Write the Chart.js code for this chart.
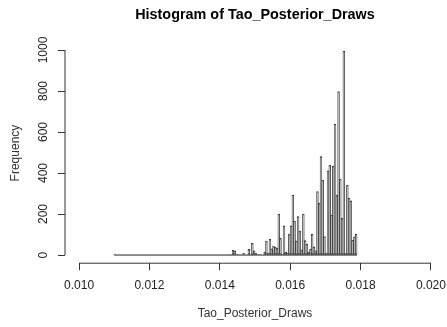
<!DOCTYPE html>
<html>
<head>
<meta charset="utf-8">
<script src="https://cdn.jsdelivr.net/npm/chart.js@4/dist/chart.umd.min.js"></script>
<style>
  body { margin: 0; background: #fff; }
  canvas { display: block; }
</style>
</head>
<body>
<canvas id="hist" width="447" height="327"></canvas>
<script>
// bins of the histogram: start and width, then the count in each bin
const binStart = 0.011;
const binWidth = 0.00005;
const counts = [
  5,
  0, 0, 0, 0, 0, 0, 0, 0, 0, 0, 0, 0, 0, 0, 0, 0,
  0, 0, 0, 0, 0, 0, 0, 0, 0, 0, 0, 0, 0, 0, 0, 0,
  0, 0, 0, 0, 0, 0, 0, 0, 0, 0, 0, 0, 0, 0, 0, 0,
  0, 0, 0, 0, 0, 0, 0, 0, 0, 0, 0, 0, 0, 0, 0, 0,
  3, 0, 24, 20, 0, 5, 0, 0, 8, 0, 0, 28, 3, 57, 21, 8, 0, 4, 0, 0,
  14, 68, 10, 78, 30, 44, 39, 34, 200, 81, 5, 143, 15, 8, 102,
  143, 293, 166, 68, 187, 117, 25, 200, 70, 54, 15, 29, 102, 40, 20,
  309, 253, 480, 366, 90, 10, 411, 439, 195, 434, 639, 293, 797, 371,
  180, 995, 10, 341, 278, 265, 73, 89, 102
];

// axis ticks
const xTicks = [0.010, 0.012, 0.014, 0.016, 0.018, 0.020];
const yTicks = [0, 200, 400, 600, 800, 1000];

const font = "'Liberation Sans', Arial, sans-serif";

const bars = counts.map((c, i) => ({ x: binStart + (i + 0.5) * binWidth, y: c }));
const baseline = [
  { x: binStart, y: 0 },
  { x: binStart + counts.length * binWidth, y: 0 }
];

// axis lines only run from the first tick to the last one
const tickSpanAxes = {
  id: "tickSpanAxes",
  afterDatasetsDraw(chart) {
    const { ctx, chartArea, scales } = chart;
    const x = scales.x, y = scales.y;
    ctx.save();
    ctx.strokeStyle = "#333";
    ctx.lineWidth = 1;
    ctx.beginPath();
    ctx.moveTo(x.getPixelForValue(xTicks[0]), chartArea.bottom);
    ctx.lineTo(x.getPixelForValue(xTicks[xTicks.length - 1]), chartArea.bottom);
    ctx.moveTo(chartArea.left, y.getPixelForValue(yTicks[0]));
    ctx.lineTo(chartArea.left, y.getPixelForValue(yTicks[yTicks.length - 1]));
    ctx.stroke();
    ctx.restore();
  }
};

new Chart(document.getElementById("hist"), {
  type: "bar",
  data: {
    datasets: [
      {
        type: "bar",
        data: bars,
        backgroundColor: "#b4b4b4",
        borderColor: "#333",
        borderWidth: 1,
        borderSkipped: false,
        barPercentage: 1,
        categoryPercentage: 1
      },
      {
        type: "line",
        data: baseline,
        borderColor: "#222",
        borderWidth: 1,
        pointRadius: 0
      }
    ]
  },
  options: {
    responsive: false,
    animation: false,
    devicePixelRatio: 1,
    layout: { padding: { left: 0, right: 2, top: 0, bottom: 0 } },
    plugins: {
      legend: { display: false },
      tooltip: { enabled: false },
      title: {
        display: true,
        text: "Histogram of Tao_Posterior_Draws",
        fullSize: false,
        color: "#000",
        font: { family: font, size: 14.4, weight: "bold", lineHeight: 1.2 },
        padding: { top: 6.4, bottom: 19.2 }
      }
    },
    scales: {
      x: {
        type: "linear",
        offset: false,
        min: 0.0096,
        max: 0.0204,
        afterBuildTicks: s => { s.ticks = xTicks.map(v => ({ value: v })); },
        afterFit: s => { s.height = 63.8; s.paddingLeft = 0; s.paddingRight = 0; },
        ticks: {
          color: "#222",
          font: { family: font, size: 12 },
          padding: 8,
          maxRotation: 0,
          autoSkip: false,
          callback: v => v.toFixed(3)
        },
        grid: { offset: false, drawOnChartArea: false, tickLength: 7, color: "#333" },
        border: { display: false },
        title: {
          display: true,
          text: "Tao_Posterior_Draws",
          color: "#333",
          font: { family: font, size: 12, lineHeight: 1.2 },
          padding: { top: 0, bottom: 5.8 }
        }
      },
      y: {
        type: "linear",
        min: -39.8,
        max: 1034.8,
        afterBuildTicks: s => { s.ticks = yTicks.map(v => ({ value: v })); },
        afterFit: s => { s.width = 65; s.paddingTop = 0; s.paddingBottom = 0; },
        ticks: {
          color: "#222",
          font: { family: font, size: 12 },
          padding: 1.4,
          minRotation: 90,
          maxRotation: 90,
          crossAlign: "center",
          autoSkip: false,
          callback: v => String(v)
        },
        grid: { drawOnChartArea: false, tickLength: 7, color: "#333" },
        border: { display: false },
        title: {
          display: true,
          text: "Frequency",
          color: "#333",
          font: { family: font, size: 12, lineHeight: 1.2 },
          padding: { top: 8.8, bottom: 0 }
        }
      }
    }
  },
  plugins: [tickSpanAxes]
});
</script>
</body>
</html>
